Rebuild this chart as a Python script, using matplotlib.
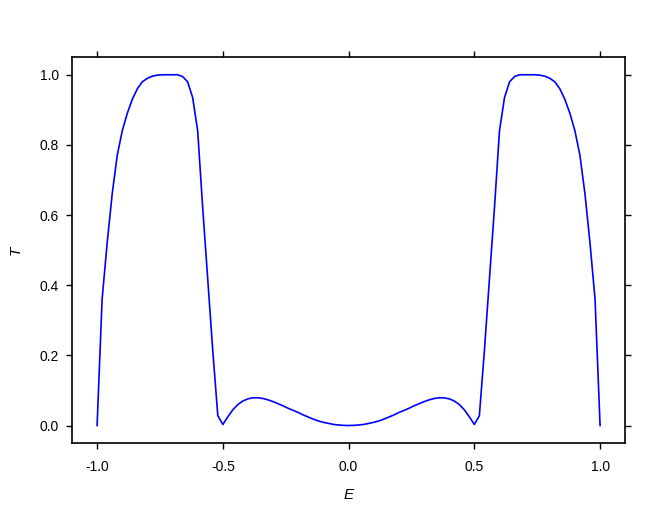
import matplotlib.pyplot as plt

plt.rcParams['font.family'] = ['Liberation Sans', 'DejaVu Sans']

# transmission T(E)
E = [-1.00, -0.98, -0.96, -0.94, -0.92, -0.90, -0.88, -0.86, -0.84, -0.82,
     -0.80, -0.78, -0.76, -0.74, -0.72, -0.70, -0.68, -0.66, -0.64, -0.62,
     -0.60, -0.58, -0.56, -0.54, -0.52, -0.50, -0.48, -0.46, -0.44, -0.42,
     -0.40, -0.38, -0.36, -0.34, -0.32, -0.30, -0.28, -0.26, -0.24, -0.22,
     -0.20, -0.18, -0.16, -0.14, -0.12, -0.10, -0.08, -0.06, -0.04, -0.02,
     0.00,
     0.02, 0.04, 0.06, 0.08, 0.10, 0.12, 0.14, 0.16, 0.18, 0.20,
     0.22, 0.24, 0.26, 0.28, 0.30, 0.32, 0.34, 0.36, 0.38, 0.40,
     0.42, 0.44, 0.46, 0.48, 0.50, 0.52, 0.54, 0.56, 0.58, 0.60,
     0.62, 0.64, 0.66, 0.68, 0.70, 0.72, 0.74, 0.76, 0.78, 0.80,
     0.82, 0.84, 0.86, 0.88, 0.90, 0.92, 0.94, 0.96, 0.98, 1.00]
T = [0.000, 0.360, 0.520, 0.660, 0.770, 0.840, 0.890, 0.930, 0.960, 0.980,
     0.990, 0.996, 0.999, 1.000, 1.000, 1.000, 1.000, 0.995, 0.980, 0.935,
     0.840, 0.620, 0.417, 0.213, 0.028, 0.003, 0.025, 0.045, 0.060, 0.070,
     0.076, 0.079, 0.079, 0.077, 0.073, 0.068, 0.062, 0.056, 0.049, 0.043,
     0.037, 0.030, 0.024, 0.018, 0.013, 0.009, 0.006, 0.003, 0.0015, 0.0004,
     0.000,
     0.0004, 0.0015, 0.003, 0.006, 0.009, 0.013, 0.018, 0.024, 0.030, 0.037,
     0.043, 0.049, 0.056, 0.062, 0.068, 0.073, 0.077, 0.079, 0.079, 0.076,
     0.070, 0.060, 0.045, 0.025, 0.003, 0.028, 0.213, 0.417, 0.620, 0.840,
     0.935, 0.980, 0.995, 1.000, 1.000, 1.000, 1.000, 0.999, 0.996, 0.990,
     0.980, 0.960, 0.930, 0.890, 0.840, 0.770, 0.660, 0.520, 0.360, 0.000]

xticks = [-1.0, -0.5, 0.0, 0.5, 1.0]
yticks = [0.0, 0.2, 0.4, 0.6, 0.8, 1.0]

fig = plt.figure(figsize=(6.54, 5.11), dpi=100)
ax = fig.add_axes([0.110, 0.133, 0.846, 0.755])

ax.plot(E, T, color='#0000ff', lw=1.2)

ax.set_xlim(-1.1, 1.1)
ax.set_ylim(-0.05, 1.05)
ax.set_xticks(xticks)
ax.set_yticks(yticks)
ax.set_xticklabels([f"{v:.1f}" for v in xticks])
ax.set_yticklabels([f"{v:.1f}" for v in yticks])

ax.tick_params(direction='out', length=4.5, width=1, labelsize=10,
               top=True, right=True, color='black')
ax.tick_params(axis='x', pad=8)
ax.tick_params(axis='y', pad=5)
for s in ax.spines.values():
    s.set_linewidth(1.2)

ax.set_xlabel('E', fontsize=11, style='italic', labelpad=10)
ax.set_ylabel('T', fontsize=11, style='italic', labelpad=12)

fig.savefig('out.png', dpi=100)
